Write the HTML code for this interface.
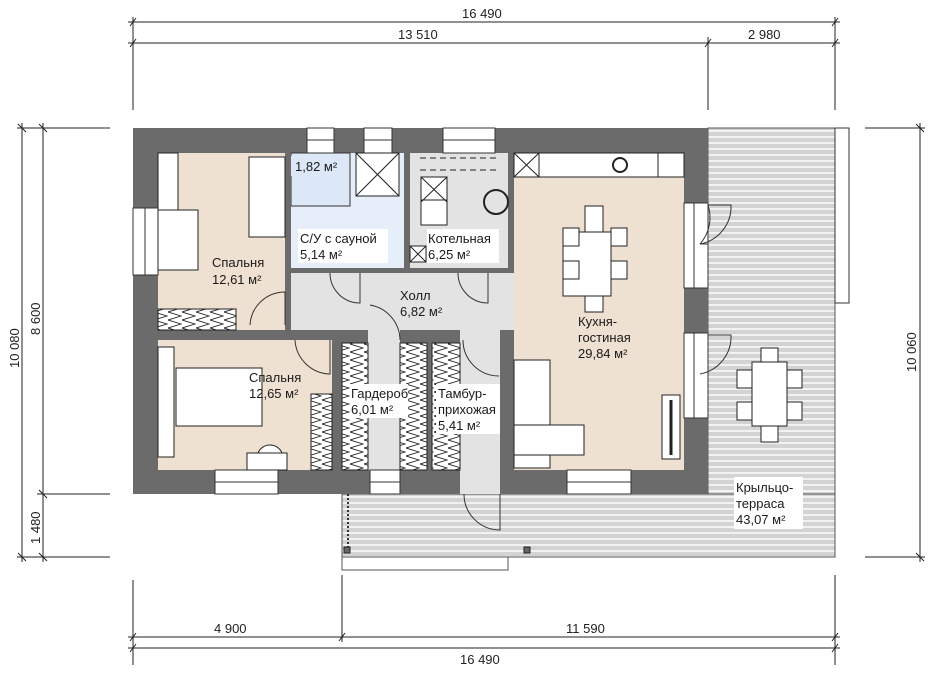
<!DOCTYPE html>
<html><head><meta charset="utf-8"><style>
body{margin:0;background:#fff}
svg{display:block}
text{font-family:"Liberation Sans",sans-serif;font-size:13px;fill:#1a1a1a}
.d{font-size:13px;fill:#222}
</style></head><body>
<svg width="939" height="677" viewBox="0 0 939 677" xmlns="http://www.w3.org/2000/svg">
<defs>
<pattern id="st" width="10" height="6" patternUnits="userSpaceOnUse">
<rect width="10" height="6" fill="#d3d3d3"/><rect y="4" width="10" height="2" fill="#f2f2f2"/>
</pattern>
<pattern id="zz" width="14" height="8" patternUnits="userSpaceOnUse">
<rect width="14" height="8" fill="#fff"/><path d="M0 0 L13 4 L0 8" fill="none" stroke="#222" stroke-width="0.9"/>
</pattern>
</defs>
<rect x="708" y="128" width="127" height="429" fill="url(#st)" stroke="#555" stroke-width="1"/>
<rect x="342" y="494" width="493" height="63" fill="url(#st)" stroke="#555" stroke-width="1"/>
<rect x="835" y="128" width="14" height="175" fill="#fff" stroke="#333"/>
<rect x="342" y="557" width="166" height="13" fill="#fff" stroke="#555"/>
<line x1="348" y1="494" x2="348" y2="550" stroke="#333" stroke-width="2" stroke-dasharray="2,2"/>
<rect x="344" y="547" width="6" height="6" fill="#666" stroke="#222"/>
<rect x="524" y="547" width="6" height="6" fill="#666" stroke="#222"/>
<rect x="133" y="128" width="575" height="366" fill="#6b6b6b"/>
<rect x="158" y="153" width="127" height="177" fill="#efe1d1"/>
<rect x="158" y="340" width="174" height="130" fill="#efe1d1"/>
<rect x="514" y="153" width="170" height="317" fill="#efe1d1"/>
<rect x="291" y="153" width="113" height="115" fill="#e6eefa"/>
<rect x="291" y="153" width="59" height="53" fill="#dce7f7" stroke="#333"/>
<rect x="410" y="153" width="98" height="115" fill="#e3e3e3"/>
<rect x="291" y="273" width="223" height="57" fill="#e3e3e3"/>
<rect x="368" y="330" width="32" height="140" fill="#e3e3e3"/>
<rect x="460" y="330" width="40" height="164" fill="#e3e3e3"/>
<rect x="285" y="153" width="6" height="120" fill="#6b6b6b"/>
<rect x="285" y="268" width="229" height="5" fill="#6b6b6b"/>
<rect x="404" y="153" width="6" height="120" fill="#6b6b6b"/>
<rect x="508" y="153" width="6" height="120" fill="#6b6b6b"/>
<rect x="158" y="330" width="137" height="10" fill="#6b6b6b"/>
<rect x="332" y="330" width="10" height="140" fill="#6b6b6b"/>
<rect x="400" y="330" width="32" height="10" fill="#6b6b6b"/>
<rect x="427" y="330" width="5" height="140" fill="#6b6b6b"/>
<rect x="503" y="330" width="11" height="140" fill="#6b6b6b"/>
<rect x="460" y="470" width="40" height="24" fill="#e3e3e3"/>
<g fill="#fff" stroke="#333" stroke-width="1">
<rect x="307" y="128" width="27" height="25"/><rect x="364" y="128" width="28" height="25"/><rect x="443" y="128" width="52" height="25"/>
<rect x="133" y="208" width="25" height="67"/>
<rect x="215" y="470" width="63" height="24"/><rect x="370" y="470" width="30" height="24"/><rect x="567" y="470" width="64" height="24"/>
<rect x="684" y="203" width="24" height="85"/><rect x="684" y="333" width="24" height="85"/>
</g>
<g stroke="#333" stroke-width="1" fill="none">
<line x1="307" y1="140" x2="334" y2="140"/><line x1="364" y1="140" x2="392" y2="140"/><line x1="443" y1="140" x2="495" y2="140"/>
<line x1="145" y1="208" x2="145" y2="275"/>
<line x1="215" y1="482" x2="278" y2="482"/><line x1="370" y1="482" x2="400" y2="482"/><line x1="567" y1="482" x2="631" y2="482"/>
<line x1="694" y1="203" x2="694" y2="288"/><line x1="694" y1="333" x2="694" y2="418"/>
<path d="M700 244 L708 244 M708 205 A40 40 0 0 1 700 244"/>
<path d="M708 205 L731 205 A38 38 0 0 1 700 244"/>
<path d="M708 335 L731 335 A38 38 0 0 1 700 374"/>
<path d="M500 494 L500 530 A36 36 0 0 1 464 494"/>
<path d="M250 325 A35 35 0 0 1 285 292 L285 325"/>
<path d="M295 340 A36 36 0 0 0 330 374 L330 340"/>
<path d="M330 273 A30 30 0 0 0 360 303 L360 273"/>
<path d="M458 273 A30 30 0 0 0 488 303 L488 273"/>
<path d="M370 305 A36 36 0 0 1 400 340"/>
<path d="M463 340 A36 36 0 0 0 499 376"/>
</g>
<g fill="#fff" stroke="#222" stroke-width="1">
<rect x="158" y="153" width="20" height="60"/>
<rect x="158" y="210" width="40" height="60"/>
<rect x="249" y="157" width="36" height="80"/>
<rect x="158" y="309" width="78" height="21" fill="url(#zz)"/>
<rect x="158" y="347" width="16" height="110"/>
<rect x="176" y="368" width="86" height="58"/>
<rect x="247" y="453" width="40" height="17"/>
<path d="M258 453 A13 13 0 0 1 282 453Z"/>
<rect x="311" y="394" width="21" height="76" fill="url(#zz)"/>
<rect x="342" y="343" width="26" height="127" fill="url(#zz)"/><rect x="400" y="343" width="27" height="127" fill="url(#zz)"/><rect x="432" y="343" width="28" height="127" fill="url(#zz)"/>
<rect x="356" y="153" width="43" height="43"/>
<rect x="421" y="177" width="26" height="25"/><rect x="421" y="200" width="26" height="25"/>
<rect x="410" y="246" width="16" height="16"/>
<rect x="514" y="153" width="170" height="24"/>
<rect x="514" y="153" width="25" height="24"/><rect x="658" y="153" width="26" height="24"/>
<rect x="563" y="232" width="48" height="64"/>
<rect x="585" y="206" width="18" height="26"/><rect x="585" y="296" width="18" height="16"/>
<rect x="563" y="228" width="16" height="18"/><rect x="611" y="228" width="16" height="18"/>
<rect x="563" y="261" width="16" height="18"/><rect x="611" y="261" width="16" height="18"/>
<rect x="514" y="360" width="36" height="108"/><rect x="514" y="425" width="70" height="30"/>
<rect x="662" y="395" width="18" height="64"/>
<rect x="752" y="362" width="35" height="64"/>
<rect x="761" y="348" width="17" height="14"/><rect x="761" y="426" width="17" height="16"/>
<rect x="737" y="370" width="15" height="18"/><rect x="787" y="370" width="15" height="18"/>
<rect x="737" y="402" width="15" height="18"/><rect x="787" y="402" width="15" height="18"/>
</g>
<g stroke="#222" fill="none">
<path d="M356 153 L399 196 M399 153 L356 196"/><path d="M421 177 L447 202 M447 177 L421 202"/>
<path d="M410 246 L426 262 M426 246 L410 262"/><path d="M514 153 L539 177 M539 153 L514 177"/>
<circle cx="496" cy="202" r="12" stroke-width="2"/><circle cx="620" cy="165" r="7" stroke-width="2"/>
<path d="M420 158 H500 M420 170 H500" stroke-dasharray="6,4"/>
<path d="M671 400 V455" stroke-width="3"/>
</g>
<rect x="291" y="156" width="52" height="20" fill="#dce7f7"/>
<text x="295" y="171">1,82 м²</text>
<rect x="298" y="229" width="90" height="34" fill="#fff"/>
<text x="300" y="243">С/У с сауной</text><text x="300" y="259">5,14 м²</text>
<rect x="427" y="229" width="72" height="34" fill="#fff"/>
<text x="428" y="243">Котельная</text><text x="428" y="259">6,25 м²</text>
<text x="212" y="267">Спальня</text><text x="212" y="284">12,61 м²</text>
<text x="400" y="300">Холл</text><text x="400" y="316">6,82 м²</text>
<text x="249" y="382">Спальня</text><text x="249" y="398">12,65 м²</text>
<rect x="350" y="384" width="58" height="34" fill="#fff"/>
<text x="351" y="398">Гардероб</text><text x="351" y="414">6,01 м²</text>
<rect x="436" y="384" width="64" height="50" fill="#fff"/>
<text x="438" y="398">Тамбур-</text><text x="438" y="414">прихожая</text><text x="438" y="430">5,41 м²</text>
<text x="578" y="326">Кухня-</text><text x="578" y="342">гостиная</text><text x="578" y="358">29,84 м²</text>
<rect x="734" y="477" width="69" height="52" fill="#fff"/>
<text x="736" y="492">Крыльцо-</text><text x="736" y="508">терраса</text><text x="736" y="524">43,07 м²</text>
<g stroke="#222" stroke-width="1" fill="none">
<line x1="128" y1="22" x2="840" y2="22"/><line x1="128" y1="43" x2="840" y2="43"/>
<line x1="133" y1="17" x2="133" y2="110"/><line x1="708" y1="37" x2="708" y2="110"/><line x1="835" y1="17" x2="835" y2="110"/>
<path d="M130 26 l6 -8 M130 47 l6 -8 M705 47 l6 -8 M832 26 l6 -8 M832 47 l6 -8"/>
<line x1="22" y1="123" x2="22" y2="562"/><line x1="43" y1="123" x2="43" y2="562"/>
<line x1="17" y1="128" x2="110" y2="128"/><line x1="37" y1="494" x2="110" y2="494"/><line x1="17" y1="557" x2="110" y2="557"/>
<path d="M18 124 l8 8 M39 124 l8 8 M39 490 l8 8 M18 553 l8 8 M39 553 l8 8"/>
<line x1="920" y1="123" x2="920" y2="562"/><line x1="865" y1="128" x2="925" y2="128"/><line x1="865" y1="557" x2="925" y2="557"/>
<path d="M916 124 l8 8 M916 553 l8 8"/>
<line x1="128" y1="637" x2="840" y2="637"/><line x1="128" y1="648" x2="840" y2="648"/>
<line x1="133" y1="580" x2="133" y2="665"/><line x1="342" y1="575" x2="342" y2="642"/><line x1="835" y1="575" x2="835" y2="665"/>
<path d="M130 641 l6 -8 M339 641 l6 -8 M832 641 l6 -8 M130 652 l6 -8 M832 652 l6 -8"/>
</g>
<text class="d" x="462" y="18">16 490</text><text class="d" x="398" y="39">13 510</text><text class="d" x="748" y="39">2 980</text>
<text class="d" x="214" y="633">4 900</text><text class="d" x="566" y="633">11 590</text><text class="d" x="460" y="664">16 490</text>
<text class="d" transform="translate(19,368) rotate(-90)">10 080</text>
<text class="d" transform="translate(40,335) rotate(-90)">8 600</text>
<text class="d" transform="translate(40,544) rotate(-90)">1 480</text>
<text class="d" transform="translate(916,372) rotate(-90)">10 060</text>
</svg>
</body></html>
